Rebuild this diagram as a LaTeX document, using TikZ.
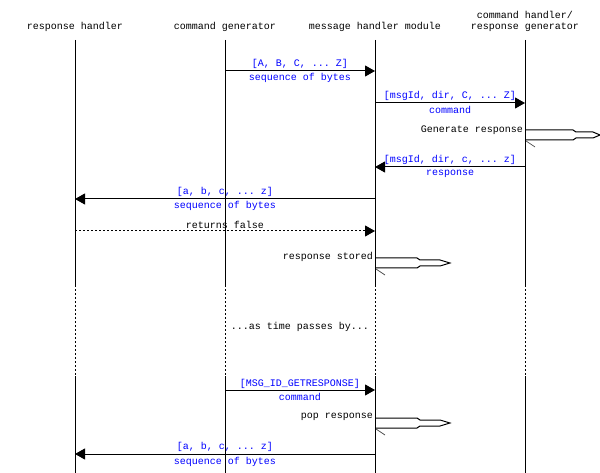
\documentclass[tikz,border=0pt]{standalone}
\usepackage{fontspec}
\setmonofont{Liberation Mono}
\usetikzlibrary{arrows.meta}
\definecolor{lblblue}{RGB}{0,0,255}
\begin{document}
\begin{tikzpicture}[x=1pt,y=-1pt,
  every node/.style={font=\ttfamily\fontsize{10}{12}\selectfont, inner sep=0pt},
  lifeline/.style={line width=1pt},
  lifedots/.style={line width=1pt, dash pattern=on 2pt off 2pt},
  msg/.style={line width=1pt, -{Triangle[length=10pt,width=11pt]}},
  dotmsg/.style={line width=1pt, dash pattern=on 2pt off 2pt, -{Triangle[length=10pt,width=11pt]}},
  lbl/.style={text=lblblue},
  loopline/.style={line width=1pt},
  slash/.style={line width=0.7pt, black!70}]
\useasboundingbox (0,0) rectangle (600,473);
% headers
\node (h1) at (75,27) {response handler};
\node (h2) at (225,27) {command generator};
\node (h3) at (375,27) {message handler module};
\node (h4a) at (525,15) {command handler/};
\node (h4b) at (525,27) {response generator};
% lifelines
\foreach \n/\x in {a/75,b/225,c/375,d/525}{
  \coordinate (\n0) at (\x,40);
  \coordinate (\n1) at (\x,285);
  \coordinate (\n2) at (\x,376);
  \coordinate (\n3) at (\x,473);
  \draw[lifeline] (\n0) -- (\n1);
  \draw[lifedots] (\n1) -- (\n2);
  \draw[lifeline] (\n2) -- (\n3);
}
% message 1
\coordinate (m1s) at (225,71); \coordinate (m1e) at (375,71);
\draw[msg] (m1s) -- (m1e);
\node[lbl] (m1t) at (300,64) {[A, B, C, ... Z]};
\node[lbl] (m1b) at (300,78) {sequence of bytes};
% message 2
\coordinate (m2s) at (375,103); \coordinate (m2e) at (525,103);
\draw[msg] (m2s) -- (m2e);
\node[lbl] (m2t) at (450,96) {[msgId, dir, C, ... Z]};
\node[lbl] (m2b) at (450,110) {command};
% self loop: generate response
\coordinate (s1) at (525,130);
\node[anchor=east] (s1t) at (523,130) {Generate response};
\draw[loopline] (s1) -- ++(48,0) -- ++(3,2) -- ++(17,0) -- ++(7,3) -- ++(-7,3) -- ++(-17,0) -- ++(-3,2) -- ++(-48,0);
\draw[slash] (526,141) -- ++(9,6);
% message 4
\coordinate (m4s) at (525,167); \coordinate (m4e) at (375,167);
\draw[msg] (m4s) -- (m4e);
\node[lbl] (m4t) at (450,160) {[msgId, dir, c, ... z]};
\node[lbl] (m4b) at (450,174) {response};
% message 5
\coordinate (m5s) at (375,199); \coordinate (m5e) at (75,199);
\draw[msg] (m5s) -- (m5e);
\node[lbl] (m5t) at (225,192) {[a, b, c, ... z]};
\node[lbl] (m5b) at (225,206) {sequence of bytes};
% returns false
\coordinate (m6s) at (75,231); \coordinate (m6e) at (375,231);
\draw[dotmsg] (m6s) -- (m6e);
\node (m6t) at (225,225) {returns false};
% self loop: response stored
\coordinate (s2) at (375,258);
\node[anchor=east] (s2t) at (373,257) {response stored};
\draw[loopline] (s2) -- ++(42,0) -- ++(3,2) -- ++(20,0) -- ++(10,3) -- ++(-10,3) -- ++(-20,0) -- ++(-3,2) -- ++(-42,0);
\draw[slash] (376,269) -- ++(9,6);
% time passes
\node (tp) at (300,327) {...as time passes by...};
% message 7
\coordinate (m7s) at (225,390); \coordinate (m7e) at (375,390);
\draw[msg] (m7s) -- (m7e);
\node[lbl] (m7t) at (300,384) {[MSG\_ID\_GETRESPONSE]};
\node[lbl] (m7b) at (300,397) {command};
% self loop: pop response
\coordinate (s3) at (375,418);
\node[anchor=east] (s3t) at (373,417) {pop response};
\draw[loopline] (s3) -- ++(42,0) -- ++(3,2) -- ++(20,0) -- ++(10,3) -- ++(-10,3) -- ++(-20,0) -- ++(-3,2) -- ++(-42,0);
\draw[slash] (376,429) -- ++(9,6);
% message 8
\coordinate (m8s) at (375,454); \coordinate (m8e) at (75,454);
\draw[msg] (m8s) -- (m8e);
\node[lbl] (m8t) at (225,447) {[a, b, c, ... z]};
\node[lbl] (m8b) at (225,462) {sequence of bytes};
\end{tikzpicture}
\end{document}
